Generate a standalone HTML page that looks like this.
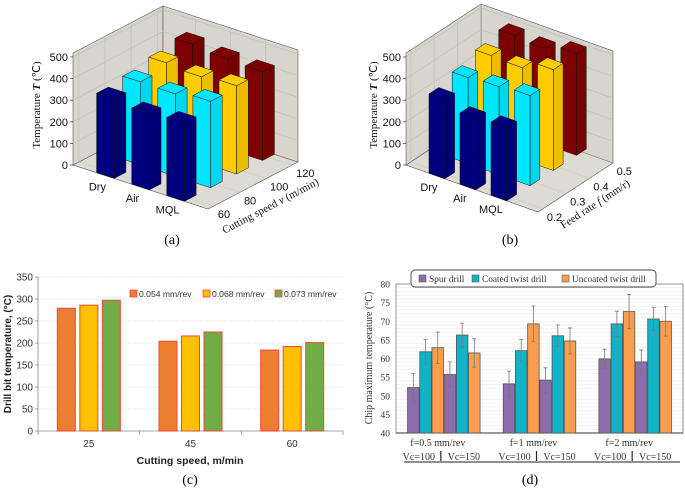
<!DOCTYPE html>
<html><head><meta charset="utf-8"><style>
body{margin:0;background:#fff}
svg{display:block;font-family:"Liberation Sans",sans-serif}
.serif{font-family:"Liberation Serif",serif}
</style></head><body>
<svg id="fig" width="685" height="490" viewBox="0 0 685 490" xmlns="http://www.w3.org/2000/svg">
<g id="pa"></g>
<g id="pb"></g>
<g id="pc"></g>
<g id="pd"></g>
<text x="172" y="244" font-size="14" text-anchor="middle" class="serif">(a)</text>
<text x="510" y="244" font-size="14" text-anchor="middle" class="serif">(b)</text>
<text x="190" y="484" font-size="14" text-anchor="middle" class="serif">(c)</text>
<text x="530" y="484" font-size="14" text-anchor="middle" class="serif">(d)</text>
</svg>
<script>
// ---- Panel (a) data ----
const aCategories = ["Dry","Air","MQL"];
const aSpeeds = ["60","80","100","120"];
const aValues = [[368,352,362],[384,381,400],[409,397,409],[433,418,411]]; // per speed, per category
// ---- Panel (b) data ----
const bCategories = ["Dry","Air","MQL"];
const bFeeds = ["0.2","0.3","0.4","0.5"];
const bValues = [[367,330,339],[398,407,417],[430,425,467],[452,443,472]];
const zTicks = [0,100,200,300,400,500];
// ---- Panel (c) data ----
const cCategories = ["25","45","60"];
const cSeriesNames = ["0.054 mm/rev","0.068 mm/rev","0.073 mm/rev"];
const cS1 = [279,204,184];
const cS2 = [286,216,192];
const cS3 = [297,225,201];
const cTicks = [0,50,100,150,200,250,300,350];
// ---- Panel (d) data ----
const dGroups = ["f=0.5 mm/rev","f=1 mm/rev","f=2 mm/rev"];
const dSeriesNames = ["Spur drill","Coated twist drill","Uncoated twist drill"];
const dSpur = [52.2,55.7,53.2,54.2,59.9,59.1];
const dCoated = [61.8,66.3,62.1,66.1,69.3,70.6];
const dUncoated = [62.9,61.5,69.3,64.7,72.6,70.0];
const dSpurErr = [3.8,3.4,3.4,3.3,2.6,3.2];
const dCoatedErr = [3.3,3.2,3.0,2.9,3.4,3.1];
const dUncoatedErr = [4.2,3.8,4.8,3.5,4.6,4.0];
const dTicks = [40,45,50,55,60,65,70,75,80];

const NS="http://www.w3.org/2000/svg";
function mk(parent,tag,attrs,text){const e=document.createElementNS(NS,tag);for(const k in attrs)e.setAttribute(k,attrs[k]);if(text!==undefined)e.textContent=text;parent.appendChild(e);return e;}
function pts(a){return a.map(p=>p[0].toFixed(1)+","+p[1].toFixed(1)).join(" ");}
function shade(hex,f){const n=parseInt(hex.slice(1),16);let r=n>>16,g=(n>>8)&255,b=n&255;const c=x=>Math.max(0,Math.min(255,Math.round(x*f)));return "rgb("+c(r)+","+c(g)+","+c(b)+")";}

const colors3d=["#00007e","#00e6ff","#ffcc00","#7e0000"];
function draw3d(g,cfg){
  const L=cfg.L,U=cfg.U,V=cfg.V,k=108/500,H=112;
  const P=(u,v,h)=>[L[0]+u*U[0]+v*V[0],L[1]+u*U[1]+v*V[1]-h];
  const uC=i=>cfg.u0+cfg.du/2+i*cfg.us, vC=j=>cfg.dv/2+j*cfg.vs;
  const wall="#d8d5cf";
  let e=mk(g,"polygon",{points:pts([P(0,0,0),P(0,1,0),P(1,1,0),P(1,0,0)]),fill:"#dedbd5",stroke:"#555","stroke-width":0.6});
  
  e=mk(g,"polygon",{points:pts([P(0,0,0),P(0,1,0),P(0,1,H),P(0,0,H)]),fill:wall,stroke:"#555","stroke-width":0.6});
  
  e=mk(g,"polygon",{points:pts([P(0,1,0),P(1,1,0),P(1,1,H),P(0,1,H)]),fill:wall,stroke:"#555","stroke-width":0.6});
  
  zTicks.forEach(t=>{if(t===0)return;const h=t*k;
    mk(g,"polyline",{points:pts([P(0,0,h),P(0,1,h),P(1,1,h)]),fill:"none",stroke:"#bdbab3","stroke-width":0.6});});
  for(let j=0;j<4;j++){const v=vC(j);if(v>=1)continue;mk(g,"line",{x1:P(0,v,0)[0],y1:P(0,v,0)[1],x2:P(0,v,H)[0],y2:P(0,v,H)[1],stroke:"#bdbab3","stroke-width":0.6});
    mk(g,"line",{x1:P(0,v,0)[0],y1:P(0,v,0)[1],x2:P(1,v,0)[0],y2:P(1,v,0)[1],stroke:"#c8c5bf","stroke-width":0.5});}
  for(let i=0;i<3;i++){const u=uC(i);mk(g,"line",{x1:P(u,1,0)[0],y1:P(u,1,0)[1],x2:P(u,1,H)[0],y2:P(u,1,H)[1],stroke:"#bdbab3","stroke-width":0.6});
    mk(g,"line",{x1:P(u,0,0)[0],y1:P(u,0,0)[1],x2:P(u,1,0)[0],y2:P(u,1,0)[1],stroke:"#c8c5bf","stroke-width":0.5});}
  zTicks.forEach(t=>{const p=P(0,0,t*k);
    mk(g,"line",{x1:p[0]-3,y1:p[1],x2:p[0],y2:p[1],stroke:"#333","stroke-width":0.7});
    const tx=mk(g,"text",{x:p[0]-5,y:p[1]+4,"font-size":11,"text-anchor":"end",fill:"#111"},String(t));
    });
  const du=cfg.du,dv=cfg.dv,list=[];
  cfg.values.forEach((row,j)=>row.forEach((val,i)=>list.push({i,j,val})));
  list.sort((a,b)=>(b.j-a.j)||(a.i-b.i));
  list.forEach(b=>{const uc=uC(b.i),vc=vC(b.j),u0=uc-du/2,u1=uc+du/2,v0=vc-dv/2,v1=vc+dv/2,h=b.val*k,c=colors3d[b.j];
    const bg=mk(g,"g",{});
    
    
    mk(bg,"polygon",{points:pts([P(u0,v0,0),P(u1,v0,0),P(u1,v0,h),P(u0,v0,h)]),fill:c,stroke:"#111","stroke-width":0.5});
    mk(bg,"polygon",{points:pts([P(u1,v0,0),P(u1,v1,0),P(u1,v1,h),P(u1,v0,h)]),fill:shade(c,0.93),stroke:"#111","stroke-width":0.5});
    mk(bg,"polygon",{points:pts([P(u0,v0,h),P(u1,v0,h),P(u1,v1,h),P(u0,v1,h)]),fill:c,stroke:"#111","stroke-width":0.5});
  });
  cfg.cats.forEach((c,i)=>{const p=P(uC(i),0,0);
    const t=mk(g,"text",{x:p[0]-8,y:p[1]+15,"font-size":11,"text-anchor":"middle",fill:"#111"},c);
    });
  cfg.series.forEach((s,j)=>{const p=P(1,vC(j),0);
    const t=mk(g,"text",{x:p[0]+4,y:p[1]+12,"font-size":11,"text-anchor":"start",fill:"#111"},s);
    });
  const ang=Math.atan2(V[1],V[0])*180/Math.PI;
  let t=mk(g,"text",{x:cfg.tpos[0],y:cfg.tpos[1],"font-size":11,"text-anchor":"middle",transform:"rotate("+ang.toFixed(1)+" "+cfg.tpos[0]+" "+cfg.tpos[1]+")",class:"serif",fill:"#111"});
  t.innerHTML=cfg.title;
  
  t=mk(g,"text",{x:cfg.zpos[0],y:cfg.zpos[1],"font-size":11,"text-anchor":"middle",transform:"rotate(-90 "+cfg.zpos[0]+" "+cfg.zpos[1]+")",class:"serif",fill:"#111"});
  t.innerHTML='Temperature <tspan font-weight="bold" font-style="italic">T</tspan> (℃)';
  
}
draw3d(document.getElementById('pa'),{L:[73,165],U:[135,44],V:[90,-47],values:aValues,cats:aCategories,series:aSpeeds,
  u0:0.175,us:0.26,vs:0.29,du:0.13,dv:0.13,
  title:'Cutting speed <tspan font-style="italic">v</tspan> (m/min)',tpos:[272,209],zpos:[40,105]});
draw3d(document.getElementById('pb'),{L:[406,165],U:[132,47],V:[75,-49],values:bValues,cats:bCategories,series:bFeeds,
  u0:0.174,us:0.235,vs:0.31,du:0.12,dv:0.13,
  title:'Feed rate <tspan font-style="italic">f</tspan> (mm/r)',tpos:[597,207],zpos:[377,105]});

// ---- Panel (c) ----
(function(){
  const g=document.getElementById('pc');
  const x0=38,x1=343,y0=431,yTop=277,max=350;
  const Y=v=>y0-(v/max)*(y0-yTop);
  const cw=(x1-x0)/cCategories.length;
  cTicks.forEach(t=>{
    if(t>0)mk(g,"line",{x1:x0,y1:Y(t),x2:x1,y2:Y(t),stroke:"#e2e2e2","stroke-width":0.8,"stroke-dasharray":"2,1"});
    mk(g,"line",{x1:x0-3,y1:Y(t),x2:x0,y2:Y(t),stroke:"#888","stroke-width":0.8});
    const tx=mk(g,"text",{x:x0-5,y:Y(t)+3.5,"font-size":10,"text-anchor":"end",fill:"#333"},String(t));
    
  });
  mk(g,"line",{x1:x0,y1:yTop,x2:x0,y2:y0,stroke:"#888","stroke-width":0.8});
  mk(g,"line",{x1:x0,y1:y0,x2:x1,y2:y0,stroke:"#888","stroke-width":0.8});
  for(let i=0;i<=cCategories.length;i++)mk(g,"line",{x1:x0+i*cw,y1:y0,x2:x0+i*cw,y2:y0+4,stroke:"#888","stroke-width":0.8});
  const series=[cS1,cS2,cS3],cols=["#ed7d31","#ffc000","#70ad47"],bw=18,gap=4.5;
  cCategories.forEach((c,i)=>{
    const cx=x0+(i+0.5)*cw;
    series.forEach((s,j)=>{
      const bx=cx+(j-1)*(bw+gap)-bw/2;
      const r=mk(g,"rect",{x:bx,y:Y(s[i]),width:bw,height:y0-Y(s[i]),fill:cols[j],stroke:"#f0483e","stroke-width":1});
      
    });
    const t=mk(g,"text",{x:cx,y:y0+16,"font-size":10,"text-anchor":"middle",fill:"#333"},c);
    
  });
  const lx=[130,203,275];
  cSeriesNames.forEach((n,j)=>{
    const lg=mk(g,"g",{});
    
    mk(lg,"rect",{x:lx[j],y:290,width:7,height:7,fill:cols[j],stroke:"#f0483e","stroke-width":0.8});
    mk(lg,"text",{x:lx[j]+9,y:297,"font-size":8.6,fill:"#333"},n);
  });
  let t=mk(g,"text",{x:190,y:464,"font-size":10.5,"font-weight":"bold","text-anchor":"middle",fill:"#222"},"Cutting speed, m/min");
  
  t=mk(g,"text",{x:11,y:354,"font-size":10,"font-weight":"bold","text-anchor":"middle",fill:"#222",transform:"rotate(-90 11 354)"},"Drill bit temperature, (°C)");
  
})();

// ---- Panel (d) ----
(function(){
  const g=document.getElementById('pd');
  const x0=396,x1=683,y0=433,yTop=284,mn=40,mx=80;
  const Y=v=>y0-(v-mn)/(mx-mn)*(y0-yTop);
  const cw=(x1-x0)/dGroups.length;
  for(let v=mn;v<=mx;v+=1)mk(g,"line",{x1:x0,y1:Y(v),x2:x1,y2:Y(v),stroke:"#ececec","stroke-width":0.6});
  dTicks.forEach(t=>{
    const tx=mk(g,"text",{x:x0-6,y:Y(t)+3.5,"font-size":9.5,"text-anchor":"end",fill:"#333",class:"serif"},String(t));
    
  });
  mk(g,"rect",{x:x0,y:yTop,width:x1-x0,height:y0-yTop,fill:"none",stroke:"#777","stroke-width":0.8});
  mk(g,"line",{x1:x0,y1:y0,x2:x1,y2:y0,stroke:"#333","stroke-width":1});
  const series=[dSpur,dCoated,dUncoated],errs=[dSpurErr,dCoatedErr,dUncoatedErr],cols=["#8e6cad","#12b3c6","#fb9d4f"],bw=11.5,step=12.2;
  dGroups.forEach((grp,gi)=>{
    const cx=x0+(gi+0.5)*cw,start=cx-3*step;
    for(let sub=0;sub<2;sub++){
      const idx=gi*2+sub;
      series.forEach((s,j)=>{
        const bx=start+(sub*3+j)*step+(step-bw)/2,v=s[idx],e=errs[j][idx];
        const r=mk(g,"rect",{x:bx,y:Y(v),width:bw,height:y0-Y(v),fill:cols[j],stroke:"#555","stroke-width":0.8});
        
        const ex=bx+bw/2;
        const eb=mk(g,"path",{d:`M${ex},${Y(v+e)}V${Y(v-e)}M${ex-2},${Y(v+e)}H${ex+2}M${ex-2},${Y(v-e)}H${ex+2}`,stroke:"#777","stroke-width":0.8,fill:"none"});
        
      });
    }
    let t=mk(g,"text",{x:cx-6,y:446,"font-size":10,"text-anchor":"middle",fill:"#333",class:"serif"},grp);
    
    t=mk(g,"text",{x:cx-25,y:460,"font-size":10,"text-anchor":"middle",fill:"#333",class:"serif"},"Vc=100");
    
    t=mk(g,"text",{x:cx+20,y:460,"font-size":10,"text-anchor":"middle",fill:"#333",class:"serif"},"Vc=150");
    
    mk(g,"line",{x1:cx-3,y1:451,x2:cx-3,y2:461,stroke:"#222","stroke-width":1.2});
  });
  mk(g,"line",{x1:404,y1:462,x2:680,y2:462,stroke:"#222","stroke-width":1});
  const lg=mk(g,"g",{});
  
  mk(lg,"rect",{x:411,y:270,width:245,height:17,rx:4,fill:"#fff",stroke:"#444","stroke-width":0.9});
  const lx=[419,472,562];
  dSeriesNames.forEach((n,j)=>{
    mk(lg,"rect",{x:lx[j],y:275,width:7,height:7,fill:cols[j],stroke:"#555","stroke-width":0.6});
    mk(lg,"text",{x:lx[j]+10,y:282,"font-size":9.3,fill:"#333",class:"serif"},n);
  });
  const t=mk(g,"text",{x:372,y:358,"font-size":10,"text-anchor":"middle",fill:"#333",class:"serif",transform:"rotate(-90 372 358)"},"Chip maximum temperature (°C)");
  
})();
</script>
</body></html>
